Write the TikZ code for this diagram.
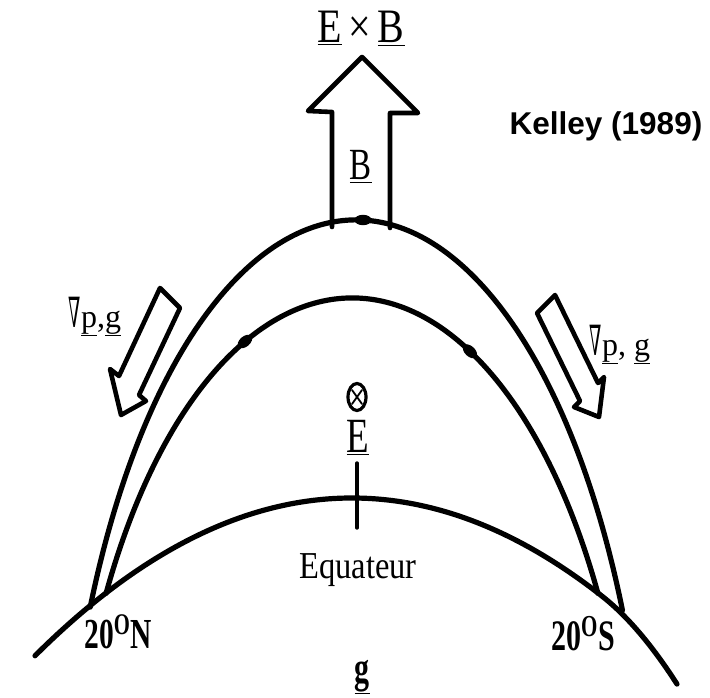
\documentclass[tikz,border=0pt]{standalone}
\usepackage{fontspec}
\setmainfont{Liberation Serif}
\newfontfamily\kelleyfont{Liberation Sans}
\newfontfamily\nablafont{DejaVu Serif}
\usetikzlibrary{calc}
\newcommand\nab{{\nablafont\scalebox{0.55}[1.3]{∇}}}
\begin{document}
\begin{tikzpicture}[x=1pt,y=1pt,line cap=round,line join=round,
  fieldline/.style={line width=5.2pt},
  hollow/.style={line width=4.6pt},
  bead/.style={fill=black},
  lbl/.style={inner sep=0pt,anchor=base}]
\useasboundingbox (0,0) rectangle (710,-698);

% ground (equator surface)
\draw[fieldline] plot[domain=35:677,samples=120,smooth]
  (\x,{-(498+15.7*((\x-352)/100)^2+36*(max(\x-602,0)/100)^2)});

% outer field line
\coordinate (oc) at (356,-896);
\draw[fieldline] ([shift={(154.7:294pt and 676pt)}]oc)
  arc[start angle=154.7,end angle=25.0,x radius=294pt,y radius=676pt];
% inner field line
\coordinate (ic) at (352,-885);
\draw[fieldline] ([shift={(150.2:283.4pt and 587pt)}]ic)
  arc[start angle=150.2,end angle=29.8,x radius=283.4pt,y radius=587pt];

% beads on field lines
\fill[bead,shift={(363,-220)}] (0,0) ellipse (8.5pt and 5.2pt);
\fill[bead,shift={([shift={(112.2:283.4pt and 587pt)}]ic)},rotate=40] (0,0) ellipse (8.5pt and 5.2pt);
\fill[bead,shift={([shift={(65.4:283.4pt and 587pt)}]ic)},rotate=-43.5] (0,0) ellipse (8.5pt and 5.2pt);

% big upward arrow (B)
\draw[hollow] (332,-227) -- (332,-112) -- (308,-111) -- (362,-57) -- (418,-113) -- (390,-113) -- (390,-228);

% left hollow arrow
\draw[hollow] (160,-288) -- (119,-376) -- (110,-369) -- (121,-415) -- (146,-401) -- (139,-395) -- (180,-308) -- cycle;
% right hollow arrow
\draw[hollow] (555,-295) -- (598,-383) -- (604,-377) -- (599,-417) -- (574,-407) -- (580,-401) -- (537,-313) -- cycle;

% circled cross (E into page)
\draw[line width=3.2pt] (357,-397) ellipse (9pt and 13.5pt);
\draw[line width=1.8pt] (352,-390) -- (362,-404) (362,-390) -- (352,-404);

% tick at the equator
\coordinate (tickA) at (357,-463);
\coordinate (tickB) at (357,-528);
\draw[line width=3.4pt] (tickA) -- (tickB);

% texts
\node[lbl] (exb) at (361,-43) {\fontsize{40}{40}\selectfont\scalebox{1}[1.2]{\underline{E}\,×\,\underline{B}}};
\node[lbl] (bb) at (361,-180) {\fontsize{33}{33}\selectfont\scalebox{1}[1.35]{\underline{B}}};
\node[lbl] (kel) at (606,-135) {\kelleyfont\bfseries\fontsize{31.5}{32}\selectfont Kelley (1989)};
\node[lbl] (gpl) at (95,-327) {\fontsize{32}{32}\selectfont\nab\underline{p},\underline{g}};
\node[lbl] (gpr) at (620,-355) {\fontsize{32}{32}\selectfont\nab\underline{p}, \underline{g}};
\node[lbl] (ee) at (358,-452) {\fontsize{37}{37}\selectfont\scalebox{1}[1.33]{\underline{E}}};
\node[lbl] (eq) at (358,-578) {\fontsize{32.5}{33}\selectfont\scalebox{1}[1.17]{Equateur}};
\node[lbl] (n20) at (118,-648) {\bfseries\fontsize{29.5}{30}\selectfont\scalebox{1}[1.45]{20\textsuperscript{O}N}};
\node[lbl] (s20) at (583,-650) {\bfseries\fontsize{30}{30}\selectfont\scalebox{1}[1.45]{20\textsuperscript{O}S}};
\node[lbl] (gg) at (362,-682) {\bfseries\fontsize{30}{30}\selectfont\scalebox{1}[1.45]{\underline{g}}};
\end{tikzpicture}
\end{document}
